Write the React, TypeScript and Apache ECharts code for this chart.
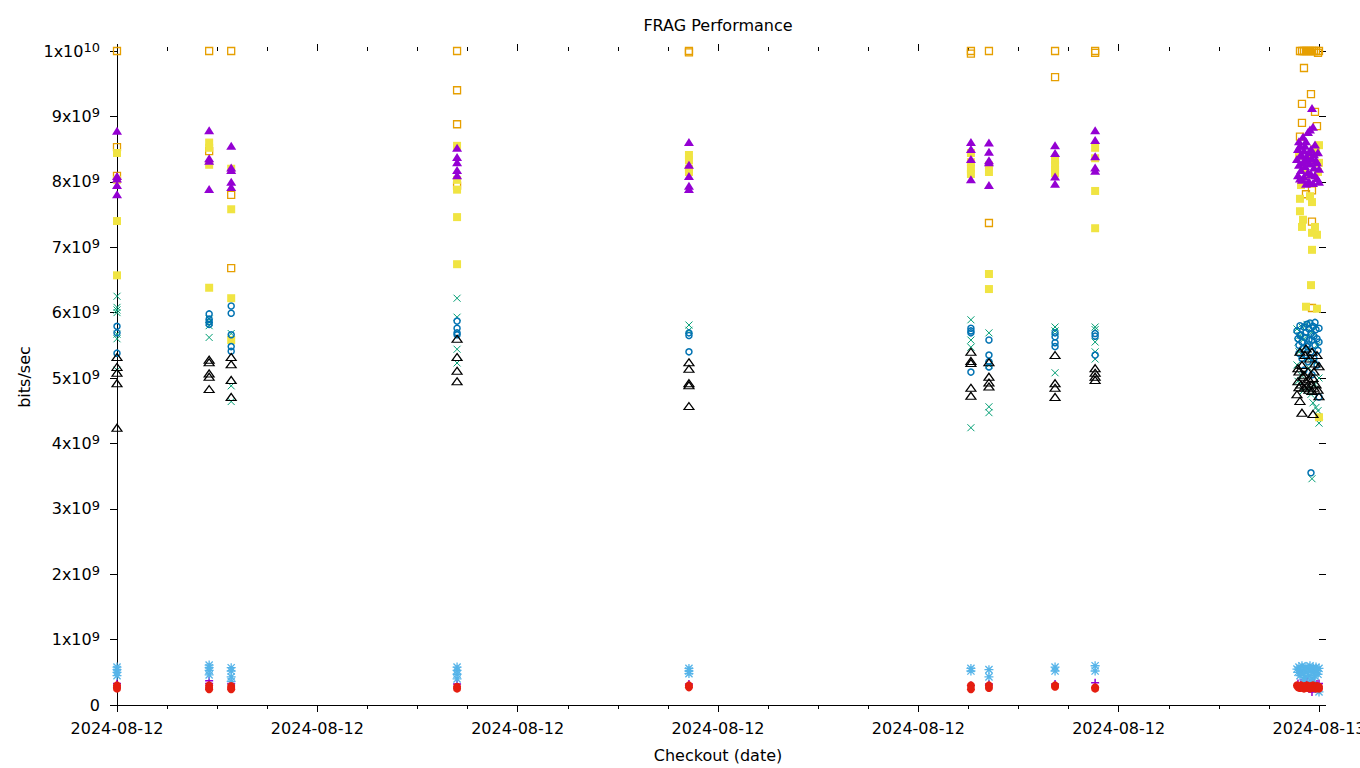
import React, { useEffect, useRef } from 'react';
import * as echarts from 'echarts';

const FONT = '"DejaVu Sans", sans-serif';
const TITLE = 'FRAG Performance';
const X_NAME = 'Checkout (date)';
const Y_NAME = 'bits/sec';
const DAY_LABELS = ['2024-08-12', '2024-08-13'];
const X_MIN = 0;
const X_MAX = 24;
const X_STEP = 4;
const Y_MAX = 1e10;
const Y_STEP = 1e9;

// hours after 2024-08-12 00:00 of each checkout run
const tA = 0, tB = 1.84, tC = 2.28, tD = 6.79, tE = 11.42, tF = 17.05, tG = 17.41, tH = 18.73, tI = 19.53;

// values in units of 1e9 bits/sec : [hour, value]
const purplePlus: number[][] = [
  [tA, 0.33], [tA, 0.3], [tB, 0.37], [tB, 0.33], [tC, 0.33], [tD, 0.32], [tE, 0.32], [tF, 0.3], [tG, 0.32], [tH, 0.32], [tI, 0.34],
  [23.58, 0.33], [23.64, 0.34], [23.7, 0.32], [23.76, 0.35], [23.82, 0.33], [23.86, 0.2], [23.9, 0.34], [23.96, 0.32], [24.0, 0.33],
];
const greenCross: number[][] = [
  [tA, 6.25], [tA, 6.08], [tA, 6.04], [tA, 6.0], [tA, 5.67], [tA, 5.6], [tA, 5.12],
  [tB, 5.9], [tB, 5.85], [tB, 5.8], [tB, 5.62],
  [tC, 5.68], [tC, 4.88], [tC, 4.64],
  [tD, 6.22], [tD, 5.93], [tD, 5.44], [tD, 5.23],
  [tE, 5.81], [tE, 5.73],
  [tF, 5.89], [tF, 5.58], [tF, 5.47], [tF, 4.24],
  [tG, 5.69], [tG, 5.2], [tG, 4.56], [tG, 4.47],
  [tH, 5.78], [tH, 5.72], [tH, 5.08],
  [tI, 5.78], [tI, 5.74], [tI, 5.55], [tI, 5.4], [tI, 5.29],
  [23.56, 5.75], [23.58, 5.55], [23.6, 5.4], [23.62, 5.65], [23.56, 5.2], [23.58, 4.95], [23.64, 5.05], [23.66, 5.78], [23.7, 5.6],
  [23.74, 5.3], [23.78, 5.45], [23.8, 5.15], [23.82, 4.85], [23.84, 4.75], [23.86, 5.7], [23.88, 4.62], [23.9, 5.25], [23.92, 4.9],
  [23.94, 4.55], [23.96, 5.5], [23.98, 4.5], [24.0, 4.31], [24.0, 5.0], [23.86, 3.46], [23.76, 5.82], [23.68, 4.8],
];
const lightBlueStar: number[][] = [
  [tA, 0.58], [tA, 0.54], [tA, 0.5], [tA, 0.45],
  [tB, 0.61], [tB, 0.57], [tB, 0.53], [tB, 0.46],
  [tC, 0.57], [tC, 0.52], [tC, 0.43], [tC, 0.36],
  [tD, 0.58], [tD, 0.53], [tD, 0.47], [tD, 0.4],
  [tE, 0.56], [tE, 0.52], [tE, 0.48],
  [tF, 0.56], [tF, 0.52],
  [tG, 0.54], [tG, 0.43],
  [tH, 0.58], [tH, 0.52],
  [tI, 0.6], [tI, 0.52],
  [23.56, 0.55], [23.58, 0.5], [23.6, 0.58], [23.62, 0.45], [23.64, 0.52], [23.66, 0.6], [23.68, 0.48], [23.7, 0.55], [23.72, 0.42],
  [23.74, 0.58], [23.76, 0.5], [23.78, 0.56], [23.8, 0.45], [23.82, 0.6], [23.84, 0.52], [23.86, 0.4], [23.88, 0.57], [23.9, 0.5],
  [23.92, 0.44], [23.94, 0.58], [23.96, 0.53], [23.98, 0.47], [24.0, 0.56], [24.0, 0.2], [23.7, 0.38], [23.85, 0.36],
];
const orangeSquare: number[][] = [
  [tA, 10.0], [tA, 8.53], [tA, 8.09],
  [tB, 10.0], [tB, 8.47],
  [tC, 10.0], [tC, 7.8], [tC, 6.68],
  [tD, 10.0], [tD, 9.4], [tD, 8.88], [tD, 7.94],
  [tE, 10.0], [tE, 9.98],
  [tF, 10.0], [tF, 9.96],
  [tG, 10.0], [tG, 7.37],
  [tH, 10.0], [tH, 9.6],
  [tI, 10.0], [tI, 9.97],
  [23.62, 10.0], [23.66, 10.0], [23.7, 10.0], [23.74, 10.0], [23.78, 10.0], [23.82, 10.0], [23.86, 10.0], [23.9, 10.0], [23.94, 10.0],
  [24.0, 10.0], [23.98, 9.97], [23.7, 9.74], [23.84, 9.34], [23.66, 9.19], [23.92, 9.07], [23.66, 8.9], [23.96, 8.85], [23.62, 8.69],
  [23.74, 7.81], [23.86, 7.87], [23.86, 7.39], [23.86, 6.07],
];
const yellowSquare: number[][] = [
  [tA, 8.44], [tA, 8.03], [tA, 7.4], [tA, 6.57],
  [tB, 8.6], [tB, 8.52], [tB, 8.26], [tB, 6.38],
  [tC, 8.2], [tC, 7.58], [tC, 6.22], [tC, 5.58],
  [tD, 8.55], [tD, 8.03], [tD, 7.88], [tD, 7.46], [tD, 6.74],
  [tE, 8.41], [tE, 8.33], [tE, 8.2], [tE, 8.15],
  [tF, 8.44], [tF, 8.3], [tF, 8.2], [tF, 8.12],
  [tG, 8.25], [tG, 8.15], [tG, 6.59], [tG, 6.36],
  [tH, 8.33], [tH, 8.25], [tH, 8.18], [tH, 8.13],
  [tI, 8.52], [tI, 8.36], [tI, 7.86], [tI, 7.29],
  [24.0, 8.56], [24.0, 8.29], [23.64, 7.95], [23.62, 7.74], [23.86, 7.69], [23.62, 7.55], [23.68, 7.42], [23.66, 7.31], [23.92, 7.31],
  [23.86, 7.22], [23.96, 7.19], [23.86, 6.96], [23.84, 6.42], [23.74, 6.09], [23.96, 6.06], [24.0, 4.4], [23.82, 7.78],
  [23.6, 8.4], [23.7, 8.2], [23.8, 8.35], [23.9, 8.5], [23.66, 8.0], [23.76, 8.1], [23.98, 8.15], [23.94, 8.45],
];
const blueCircle: number[][] = [
  [tA, 5.79], [tA, 5.69], [tA, 5.38],
  [tB, 5.98], [tB, 5.9], [tB, 5.86], [tB, 5.82],
  [tC, 6.1], [tC, 5.99], [tC, 5.66], [tC, 5.48], [tC, 5.41],
  [tD, 5.87], [tD, 5.76], [tD, 5.69], [tD, 5.66],
  [tE, 5.69], [tE, 5.65], [tE, 5.4],
  [tF, 5.76], [tF, 5.72], [tF, 5.69], [tF, 5.09],
  [tG, 5.58], [tG, 5.35], [tG, 5.25], [tG, 5.17],
  [tH, 5.69], [tH, 5.63], [tH, 5.54], [tH, 5.48],
  [tI, 5.68], [tI, 5.64], [tI, 5.35],
  [23.56, 5.72], [23.58, 5.6], [23.6, 5.5], [23.62, 5.8], [23.64, 5.66], [23.66, 5.55], [23.68, 5.45], [23.7, 5.78], [23.72, 5.62],
  [23.74, 5.7], [23.76, 5.82], [23.78, 5.52], [23.8, 5.75], [23.82, 5.84], [23.84, 5.68], [23.86, 5.58], [23.88, 5.79], [23.9, 5.64],
  [23.92, 5.5], [23.94, 5.74], [23.96, 5.6], [23.98, 5.42], [24.0, 5.76], [24.0, 5.55], [23.6, 5.38], [23.66, 5.3], [23.72, 5.35],
  [23.78, 5.25], [23.84, 5.4], [23.9, 5.3], [23.96, 5.2], [23.7, 5.12], [23.86, 5.05], [24.0, 4.71], [23.84, 3.55], [23.62, 5.65],
  [23.76, 5.48], [23.92, 5.85], [23.8, 5.58],
];
const redCircle: number[][] = [
  [tA, 0.3], [tA, 0.27], [tA, 0.25],
  [tB, 0.3], [tB, 0.26], [tB, 0.24],
  [tC, 0.29], [tC, 0.26], [tC, 0.24],
  [tD, 0.28], [tD, 0.25],
  [tE, 0.3], [tE, 0.27],
  [tF, 0.3], [tF, 0.24],
  [tG, 0.3], [tG, 0.26],
  [tH, 0.3], [tH, 0.28],
  [tI, 0.27], [tI, 0.25],
  [23.56, 0.3], [23.58, 0.27], [23.6, 0.29], [23.62, 0.26], [23.64, 0.3], [23.66, 0.27], [23.68, 0.28], [23.7, 0.25], [23.72, 0.29],
  [23.74, 0.27], [23.76, 0.3], [23.78, 0.26], [23.8, 0.28], [23.82, 0.25], [23.84, 0.29], [23.86, 0.27], [23.88, 0.3], [23.9, 0.26],
  [23.92, 0.28], [23.94, 0.25], [23.96, 0.29], [23.98, 0.27], [24.0, 0.28], [24.0, 0.25],
];
const blackTriangle: number[][] = [
  [tA, 5.32], [tA, 5.17], [tA, 5.08], [tA, 4.92], [tA, 4.24],
  [tB, 5.28], [tB, 5.24], [tB, 5.07], [tB, 5.02], [tB, 4.83],
  [tC, 5.32], [tC, 5.21], [tC, 4.97], [tC, 4.71],
  [tD, 5.6], [tD, 5.32], [tD, 5.11], [tD, 4.95],
  [tE, 5.24], [tE, 5.14], [tE, 4.92], [tE, 4.89], [tE, 4.57],
  [tF, 5.4], [tF, 5.26], [tF, 5.23], [tF, 4.85], [tF, 4.73],
  [tG, 5.24], [tG, 5.02], [tG, 4.93], [tG, 4.87],
  [tH, 5.35], [tH, 4.92], [tH, 4.85], [tH, 4.71],
  [tI, 5.15], [tI, 5.08], [tI, 5.02], [tI, 4.97],
  [23.56, 4.75], [23.58, 4.95], [23.58, 5.15], [23.6, 5.1], [23.62, 4.65], [23.62, 5.4], [23.64, 4.9], [23.66, 4.47], [23.66, 5.2],
  [23.68, 5.02], [23.7, 4.85], [23.72, 5.35], [23.74, 4.95], [23.74, 5.45], [23.76, 4.88], [23.78, 5.1], [23.8, 4.82], [23.82, 5.3],
  [23.84, 4.9], [23.86, 5.4], [23.86, 4.8], [23.88, 5.0], [23.88, 4.45], [23.9, 4.85], [23.92, 5.22], [23.94, 4.9], [23.96, 5.35],
  [23.98, 4.82], [24.0, 5.18], [24.0, 4.72], [23.6, 4.86], [23.7, 5.05], [23.8, 4.98], [23.9, 5.1],
];
const purpleTriangle: number[][] = [
  [tA, 8.78], [tA, 8.09], [tA, 8.05], [tA, 7.95], [tA, 7.81],
  [tB, 8.79], [tB, 8.36], [tB, 8.32], [tB, 7.89],
  [tC, 8.55], [tC, 8.22], [tC, 8.18], [tC, 8.0], [tC, 7.92],
  [tD, 8.52], [tD, 8.38], [tD, 8.3], [tD, 8.18], [tD, 8.1],
  [tE, 8.61], [tE, 8.26], [tE, 8.09], [tE, 7.94], [tE, 7.89],
  [tF, 8.61], [tF, 8.5], [tF, 8.35], [tF, 8.04],
  [tG, 8.6], [tG, 8.46], [tG, 8.33], [tG, 8.3], [tG, 7.95],
  [tH, 8.56], [tH, 8.44], [tH, 8.08], [tH, 7.97],
  [tI, 8.79], [tI, 8.64], [tI, 8.39], [tI, 8.22], [tI, 8.17],
  [23.86, 9.13], [23.88, 8.84], [23.82, 8.8], [23.78, 8.76], [23.68, 8.69], [23.74, 8.62], [23.62, 8.55], [23.92, 8.57], [23.58, 8.5],
  [23.7, 8.48], [23.8, 8.45], [23.98, 8.45], [23.64, 8.42], [23.76, 8.38], [23.86, 8.36], [23.56, 8.35], [23.94, 8.33], [23.68, 8.3],
  [23.82, 8.28], [23.6, 8.26], [23.72, 8.24], [23.9, 8.22], [24.0, 8.2], [23.64, 8.18], [23.78, 8.15], [23.84, 8.12], [23.58, 8.1],
  [23.7, 8.08], [23.96, 8.06], [23.66, 8.03], [23.8, 8.01], [23.88, 7.98], [24.0, 8.0], [23.74, 7.97], [23.62, 8.05], [23.92, 8.1],
  [23.76, 8.32], [23.66, 8.4], [23.84, 8.5], [23.6, 8.62], [23.96, 8.3], [23.72, 8.55], [23.9, 8.42],
];

const PLUS = 'path://M5,0V10M0,5H10';
const CROSS = 'path://M0,0L10,10M10,0L0,10';
const STAR = 'path://M5,0V10M0,5H10M1,1L9,9M9,1L1,9';

type Def = { name: string; data: number[][]; symbol: string; size: number | number[]; color: string; filled: boolean; lw?: number };
const defs: Def[] = [
  { name: 'p1', data: purplePlus, symbol: PLUS, size: 8, color: '#9400d3', filled: false, lw: 1.5 },
  { name: 'p2', data: greenCross, symbol: CROSS, size: 7, color: '#009e73', filled: false },
  { name: 'p3', data: lightBlueStar, symbol: STAR, size: 9, color: '#56b4e9', filled: false, lw: 1.3 },
  { name: 'p4', data: orangeSquare, symbol: 'rect', size: 7, color: '#e69f00', filled: false, lw: 1.3 },
  { name: 'p5', data: yellowSquare, symbol: 'rect', size: 8, color: '#f0e442', filled: true },
  { name: 'p6', data: blueCircle, symbol: 'circle', size: 6, color: '#0072b2', filled: false, lw: 1.5 },
  { name: 'p7', data: redCircle, symbol: 'circle', size: 8, color: '#e51e10', filled: true },
  { name: 'p8', data: blackTriangle, symbol: 'triangle', size: [10, 7], color: '#000000', filled: false, lw: 1.2 },
  { name: 'p9', data: purpleTriangle, symbol: 'triangle', size: [10, 8], color: '#9400d3', filled: true },
];

function yLabel(v: number): string {
  if (v === 0) return '{b|0}';
  const exp = Math.floor(Math.log10(v) + 1e-9);
  const m = Math.round(v / Math.pow(10, exp));
  return `{b|${m}x10}{s|${exp}}`;
}

export default function App() {
  const ref = useRef<HTMLDivElement>(null);
  useEffect(() => {
    if (!ref.current) return;
    const chart = echarts.init(ref.current, undefined, { renderer: 'svg' });
    const tickStyle = { color: '#000', width: 1 };
    const xCommon = {
      type: 'value' as const,
      min: X_MIN,
      max: X_MAX,
      interval: X_STEP,
      splitLine: { show: false },
      minorSplitLine: { show: false },
      minorTick: { show: true, splitNumber: 4, length: 4, lineStyle: tickStyle },
      axisTick: { show: true, inside: false, length: 7, lineStyle: tickStyle },
    };
    const yCommon = {
      type: 'value' as const,
      min: 0,
      max: Y_MAX,
      interval: Y_STEP,
      splitLine: { show: false },
      axisTick: { show: true, inside: false, length: 7, lineStyle: tickStyle },
    };
    chart.setOption({
      animation: false,
      backgroundColor: '#ffffff',
      grid: { left: 117, right: 41, top: 51, bottom: 63, containLabel: false, outerBoundsMode: 'none' },
      xAxis: [
        {
          ...xCommon,
          position: 'bottom',
          axisLine: { show: true, onZero: false, lineStyle: { color: '#000', width: 1 } },
          axisLabel: {
            show: true,
            margin: 15,
            color: '#000',
            fontSize: 16,
            fontFamily: FONT,
            hideOverlap: false,
            formatter: (v: number) => (v >= X_MAX ? DAY_LABELS[1] : DAY_LABELS[0]),
          },
        },
        {
          ...xCommon,
          position: 'top',
          axisLine: { show: false, onZero: false },
          axisLabel: { show: false },
        },
      ],
      yAxis: [
        {
          ...yCommon,
          position: 'left',
          axisLine: { show: true, onZero: false, lineStyle: { color: '#000', width: 1 } },
          axisLabel: {
            show: true,
            margin: 17,
            formatter: yLabel,
            rich: {
              b: { fontSize: 16, fontFamily: FONT, color: '#000', lineHeight: 20, verticalAlign: 'middle' },
              s: { fontSize: 13, fontFamily: FONT, color: '#000', lineHeight: 13, verticalAlign: 'top' },
            },
          },
        },
        {
          ...yCommon,
          position: 'right',
          axisLine: { show: false, onZero: false },
          axisLabel: { show: false },
        },
      ],
      graphic: [
        { type: 'text', x: 718, y: 25, style: { text: TITLE, fontSize: 16, fontFamily: FONT, fill: '#000', align: 'center', verticalAlign: 'middle' } },
        { type: 'text', x: 718, y: 755, style: { text: X_NAME, fontSize: 16, fontFamily: FONT, fill: '#000', align: 'center', verticalAlign: 'middle' } },
        { type: 'text', x: 24, y: 377, rotation: Math.PI / 2, style: { text: Y_NAME, fontSize: 16, fontFamily: FONT, fill: '#000', align: 'center', verticalAlign: 'middle' } },
      ],
      series: defs.map((d) => ({
        type: 'scatter',
        name: d.name,
        xAxisIndex: 0,
        yAxisIndex: 0,
        symbol: d.symbol,
        symbolSize: d.size,
        data: d.data.map(([x, y]) => [x, y * 1e9]),
        itemStyle: d.filled
          ? { color: d.color, borderWidth: 0, opacity: 1 }
          : { color: 'rgba(0,0,0,0)', borderColor: d.color, borderWidth: d.lw ?? 1, opacity: 1 },
        emphasis: { disabled: true },
        silent: true,
      })),
    });
    return () => chart.dispose();
  }, []);
  return (
    <div
      ref={ref}
      style={{ position: 'fixed', left: 0, top: 0, width: 1360, height: 768, background: '#fff' }}
    />
  );
}
